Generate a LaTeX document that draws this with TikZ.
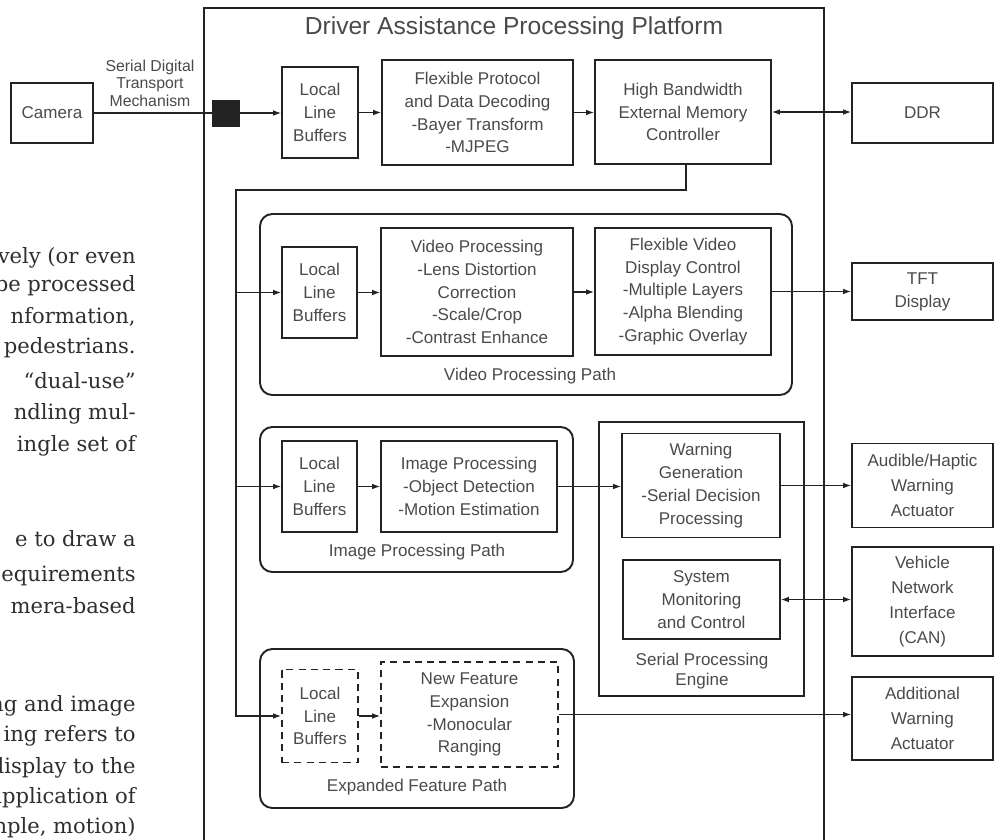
\documentclass[tikz,border=0pt]{standalone}
\usepackage{fontspec}
\setmainfont{Liberation Sans}
\newfontfamily\bookfont{DejaVu Serif}
\usetikzlibrary{positioning,arrows.meta}
\definecolor{linecol}{HTML}{232323}
\definecolor{txtcol}{HTML}{4A4A4A}
\definecolor{bookcol}{HTML}{2E2E2E}

\begin{document}
\begin{tikzpicture}[x=0.02cm,y=-0.02cm,
    box/.style={draw=linecol,line width=1.1pt,align=center,text=txtcol,
      font=\fontsize{9.7}{13}\selectfont,inner sep=0pt},
    tallbox/.style={box,font=\fontsize{9.7}{14.2}\selectfont},
    dims/.style 2 args={minimum width=#1*0.02cm,minimum height=#2*0.02cm},
    dashbox/.style={box,dash pattern=on 4pt off 3pt},
    pathbox/.style={draw=linecol,line width=1.1pt,rounded corners=7pt,inner sep=0pt},
    platformbox/.style={draw=linecol,line width=1.4pt,inner sep=0pt},
    caption/.style={text=txtcol,align=center,font=\fontsize{9.7}{11.3}\selectfont},
    link/.style={draw=linecol,line width=0.6pt},
    arrow/.style={link,-{Latex[length=4.5pt,width=3.2pt]}},
    twoway/.style={link,{Latex[length=4.5pt,width=3.2pt]}-{Latex[length=4.5pt,width=3.2pt]}},
    booktext/.style={anchor=base east,inner sep=0pt,text=bookcol,
      font=\bookfont\fontsize{12}{15}\selectfont}
    ]
\useasboundingbox (0,0) rectangle (998,839);

% Page text beside the figure
\node[booktext] (b1) at (136,263) {vely (or even};
\node[booktext] (b2) at (136,291) {be processed};
\node[booktext] (b3) at (136,323) {nformation,};
\node[booktext] (b4) at (136,353) {pedestrians.};
\node[booktext] (b5) at (136,388) {“dual-use”};
\node[booktext] (b6) at (136,419) {ndling mul-};
\node[booktext] (b7) at (136,451) {ingle set of};
\node[booktext] (b8) at (136,546) {e to draw a};
\node[booktext] (b9) at (136,581) {equirements};
\node[booktext] (b10) at (136,613) {mera-based};
\node[booktext] (b11) at (136,711) {ng and image};
\node[booktext] (b12) at (136,741) {ing refers to};
\node[booktext] (b13) at (136,773) {display to the};
\node[booktext] (b14) at (136,803) {application of};
\node[booktext] (b15) at (136,833) {nple, motion)};

% Platform frame
\node[platformbox,anchor=north west,dims={620}{860}] (platform) at (203,7) {};
\node[text=txtcol,font=\fontsize{14}{16}\selectfont] (title) at (514,28)
  {Driver Assistance Processing Platform};

% Camera input
\node[box,dims={82}{60}] (camera) at (52,113) {Camera};
\node[caption,font=\fontsize{9}{9.9}\selectfont] (serial) at (150,83)
  {Serial Digital\\Transport\\Mechanism};
\node[fill=linecol,dims={28}{27},inner sep=0pt] (port) at (226,113) {};

% Input row
\node[box,dims={76}{91}] (llb1) at (320,112.5) {Local\\Line\\Buffers};
\node[box,dims={191}{105}] (decode) at (477.5,112.5)
  {Flexible Protocol\\and Data Decoding\\-Bayer Transform\\-MJPEG};
\node[box,dims={176}{104}] (memctl) at (683,112)
  {High Bandwidth\\External Memory\\Controller};
\node[box,dims={141}{60}] (ddr) at (922.5,113) {DDR};

% Video processing path
\node[pathbox,dims={532}{181}] (vpath) at (526,304.5) {};
\node[box,dims={75}{91}] (llbv) at (319.5,292.5) {Local\\Line\\Buffers};
\node[box,dims={192}{128}] (video) at (477,292)
  {Video Processing\\-Lens Distortion\\Correction\\-Scale/Crop\\-Contrast Enhance};
\node[box,dims={176}{127}] (display) at (683,291.5)
  {Flexible Video\\Display Control\\-Multiple Layers\\-Alpha Blending\\-Graphic Overlay};
\node[caption] (vlabel) at (530,376) {Video Processing Path};
\node[box,dims={141}{57}] (tft) at (922.5,291.5) {TFT\\Display};

% Image processing path
\node[pathbox,dims={313}{145}] (ipath) at (416.5,499.5) {};
\node[box,dims={75}{91}] (llbi) at (319.5,486.5) {Local\\Line\\Buffers};
\node[box,dims={176}{91}] (image) at (469,486.5)
  {Image Processing\\-Object Detection\\-Motion Estimation};
\node[caption] (ilabel) at (417,552) {Image Processing Path};

% Serial processing engine
\node[draw=linecol,line width=1.1pt,dims={205}{274},inner sep=0pt] (engine) at (701.5,559) {};
\node[box,dims={158}{104}] (warn) at (701,485.5)
  {Warning\\Generation\\-Serial Decision\\Processing};
\node[box,dims={157}{79}] (monitor) at (701.5,599.5)
  {System\\Monitoring\\and Control};
\node[caption] (elabel) at (702,671) {Serial Processing\\Engine};

% Expanded feature path
\node[pathbox,dims={314}{159}] (epath) at (417,728.5) {};
\node[dashbox,dims={76}{93}] (llbe) at (320,716) {Local\\Line\\Buffers};
\node[dashbox,dims={177}{105}] (feature) at (469.5,714.5)
  {New Feature\\Expansion\\-Monocular\\Ranging};
\node[caption] (elabel2) at (417,787) {Expanded Feature Path};

% Outputs
\node[tallbox,dims={141}{84}] (haptic) at (922.5,485.5)
  {Audible/Haptic\\Warning\\Actuator};
\node[tallbox,dims={141}{109}] (can) at (922.5,601.5)
  {Vehicle\\Network\\Interface\\(CAN)};
\node[tallbox,dims={141}{83}] (extra) at (922.5,718.5)
  {Additional\\Warning\\Actuator};

% Feed from memory controller
\coordinate (tap) at (686,190);
\coordinate (feed) at (236,190);

% Connectors
\draw[link] (camera.east) -- (camera.east -| port.west);
\draw[arrow] (port.east) -- (port.east -| llb1.west);
\draw[arrow] (llb1.east) -- (llb1.east -| decode.west);
\draw[arrow] (decode.east) -- (decode.east -| memctl.west);
\draw[twoway] (memctl.east) -- (memctl.east -| ddr.west);
\draw[arrow] (memctl.south -| tap) -- (tap) -- (feed) |- (llbe.west);
\draw[arrow] (feed |- llbv.west) -- (llbv.west);
\draw[arrow] (feed |- llbi.west) -- (llbi.west);
\draw[arrow] (llbv.east) -- (llbv.east -| video.west);
\draw[arrow] (video.east) -- (video.east -| display.west);
\draw[arrow] (display.east) -- (display.east -| tft.west);
\draw[arrow] (llbi.east) -- (llbi.east -| image.west);
\draw[arrow] (image.east) -- (image.east -| warn.west);
\draw[arrow] (warn.east) -- (warn.east -| haptic.west);
\draw[twoway] (monitor.east) -- (monitor.east -| can.west);
\draw[arrow] (llbe.east) -- (llbe.east -| feature.west);
\draw[arrow] (feature.east) -- (feature.east -| extra.west);

\end{tikzpicture}
\end{document}
